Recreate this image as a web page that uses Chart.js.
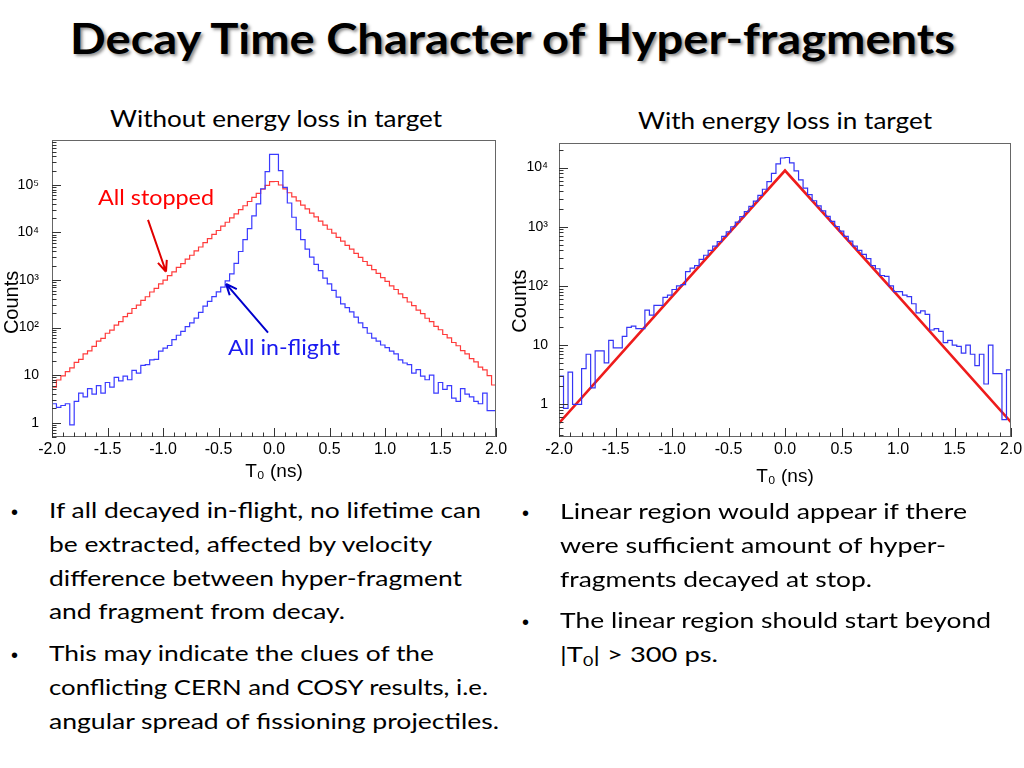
<!DOCTYPE html>
<html lang="en">
<head>
<meta charset="UTF-8">
<title>Decay Time Character of Hyper-fragments</title>
<script src="https://cdn.jsdelivr.net/npm/chart.js"></script>
<style>
  body { margin: 0; background: #fff; }
  .slide { position: relative; width: 1024px; height: 768px; overflow: hidden; font-family: Lato, "Open Sans", sans-serif; color: #000; }
  .txt { position: absolute; white-space: nowrap; transform-origin: 0 0; line-height: 1.2; }
  .title { font-weight: 700; font-size: 42px; text-shadow: 2px 2px 3px rgba(0,0,0,0.45); }
  .sub { font-size: 23px; }
  .bul { font-size: 22px; }
  .dot { position: absolute; font-family: "Liberation Sans", Arial, sans-serif; font-size: 20px; line-height: 1.2; }
  .plot { position: absolute; }
  sub { font-size: 65%; vertical-align: -0.25em; line-height: 0; }
</style>
</head>
<body>
<div class="slide">
  <div class="txt title" data-w="885" style="left:70px; top:13px">Decay Time Character of Hyper-fragments</div>

  <div class="txt sub" data-w="332" style="left:110px; top:105px">Without energy loss in target</div>
  <div class="txt sub" data-w="294" style="left:638px; top:107px">With energy loss in target</div>

  <div class="plot" style="left:0; top:130px"><canvas id="leftChart" width="510" height="360"></canvas></div>
  <div class="plot" style="left:505px; top:130px"><canvas id="rightChart" width="519" height="360"></canvas></div>

  <div class="dot" style="left:11px; top:500px">•</div>
  <div class="txt bul" data-w="432" style="left:49px; top:497px">If all decayed in-flight, no lifetime can</div>
  <div class="txt bul" data-w="383" style="left:49px; top:531px">be extracted, affected by velocity</div>
  <div class="txt bul" data-w="413" style="left:49px; top:565px">difference between hyper-fragment</div>
  <div class="txt bul" data-w="296" style="left:49px; top:598px">and fragment from decay.</div>
  <div class="dot" style="left:11px; top:643px">•</div>
  <div class="txt bul" data-w="385" style="left:49px; top:640px">This may indicate the clues of the</div>
  <div class="txt bul" data-w="439" style="left:49px; top:674px">conflicting CERN and COSY results, i.e.</div>
  <div class="txt bul" data-w="450" style="left:49px; top:708px">angular spread of fissioning projectiles.</div>

  <div class="dot" style="left:522px; top:501px">•</div>
  <div class="txt bul" data-w="407" style="left:560px; top:498px">Linear region would appear if there</div>
  <div class="txt bul" data-w="386" style="left:560px; top:532px">were sufficient amount of hyper-</div>
  <div class="txt bul" data-w="312" style="left:560px; top:566px">fragments decayed at stop.</div>
  <div class="dot" style="left:522px; top:610px">•</div>
  <div class="txt bul" data-w="431" style="left:560px; top:607px">The linear region should start beyond</div>
  <div class="txt bul" data-w="158" style="left:560px; top:641px">|T<sub>0</sub>| &gt; 300 ps.</div>
</div>

<script>
// histogram binning (ns)
const binStart = -2.0;
const binWidth = 0.04;

const xTickValues = [-2, -1.5, -1, -0.5, 0, 0.5, 1, 1.5, 2];
const xTickText = ['-2.0', '-1.5', '-1.0', '-0.5', '0.0', '0.5', '1.0', '1.5', '2.0'];
const yTicksLeft = [1, 10, 100, 1000, 10000, 100000];
const yTextLeft = ['1', '10', '10²', '10³', '10⁴', '10⁵'];
const yTicksRight = [1, 10, 100, 1000, 10000];
const yTextRight = ['1', '10', '10²', '10³', '10⁴'];

// without energy loss: all stopped (red)
const stoppedCounts = [
  5.6, 7.9, 9.6, 11.8, 14.2, 18.6, 21.4, 27.9, 32.5, 40.2,
  52.0, 59.5, 76.0, 88.5, 113, 133, 170, 198, 252, 298,
  375, 445, 560, 668, 830, 995, 1240, 1485, 1840, 2220,
  2750, 3320, 4100, 4950, 6100, 7400, 9100, 11000, 13550, 16400,
  20200, 24500, 30100, 36500, 44800, 54500, 66500, 81000, 98000, 117000,
  118000, 99500, 82500, 68500, 55800, 46300, 37700, 31300, 25500, 21200,
  17300, 14300, 11700, 9700, 7900, 6550, 5350, 4450, 3620, 3000,
  2450, 2040, 1650, 1380, 1120, 935, 755, 632, 510, 428,
  345, 290, 232, 197, 157, 133, 106, 90, 71.5, 61,
  48.5, 41.5, 32.8, 28.0, 22.2, 19.0, 14.8, 12.9, 9.8, 6.2
];

// without energy loss: all in-flight (blue)
const inFlightCounts = [
  2.5, 2.1, 2.3, 2.5, 0.9, 2.8, 4.2, 3.5, 5.2, 4.0,
  6.0, 4.2, 7.0, 5.6, 9.0, 7.6, 9.5, 8.0, 12.6, 11.0,
  16.0, 16.6, 21.0, 21.4, 32.0, 37.0, 42.0, 56.0, 69.0, 83.0,
  105, 126, 158, 209, 282, 355, 447, 562, 708, 955,
  1350, 2240, 3980, 7080, 12000, 22400, 39800, 83000, 190000, 437000,
  437000, 200000, 89000, 41700, 20900, 11500, 7080, 4470, 3020, 2140,
  1580, 1100, 832, 603, 437, 316, 263, 214, 166, 126,
  100, 76, 60, 52, 43, 38, 32, 28, 21, 18,
  16.6, 11.0, 13.0, 9.5, 8.0, 10.0, 4.2, 7.0, 5.0, 6.0,
  3.3, 2.8, 5.2, 4.0, 3.5, 2.8, 2.5, 4.2, 1.8, 1.8
];

// with energy loss (blue histogram)
const withLossCounts = [
  3.0, 0.85, 3.5, 1.0, 1.0, 4.0, 7.0, 1.9, 8.0, 8.0,
  5.0, 12.0, 9.0, 9.0, 14.0, 20.0, 21.0, 19.0, 19.0, 39.0,
  32.0, 47.0, 47.0, 64.0, 70.0, 87.0, 100, 105, 174, 200,
  220, 280, 330, 400, 470, 560, 690, 820, 1000, 1200,
  1480, 1800, 2200, 2700, 3400, 4300, 5800, 8000, 11500, 14500,
  14800, 12000, 8800, 6200, 4500, 3500, 2750, 2250, 1850, 1500,
  1230, 1010, 840, 690, 570, 470, 400, 340, 290, 220,
  195, 150, 145, 100, 80, 80, 70, 66, 50, 35,
  38, 33, 18, 19, 17, 11, 12, 10, 9.5, 7.3,
  10, 7.0, 4.5, 7.0, 2.2, 10, 3.3, 3.3, 0.55, 3.8
];

// exponential fit (red line, right panel)
const fitT = [-2, -1, 0, 1, 2];
const fitCounts = [0.48, 66, 8900, 68, 0.5];

const leftNotes = [
  { text: 'All stopped', color: '#ff0000', arrow: '#e00000', x: -1.063, y: 53300, w: 116,
    from: [-1.135, 18400], to: [-0.973, 1490] },
  { text: 'All in-flight', color: '#1a1af0', arrow: '#0000cc', x: 0.09, y: 37.7, w: 112,
    from: [-0.054, 78], to: [-0.432, 832] }
];

Chart.defaults.font.family = '"Liberation Sans", Arial, Helvetica, sans-serif';
Chart.defaults.color = '#000';

function histPoints(counts) {
  const pts = counts.map((c, i) => ({ x: binStart + i * binWidth, y: c }));
  pts.push({ x: binStart + counts.length * binWidth, y: counts[counts.length - 1] });
  return pts;
}

// ROOT-like frame with ticks pointing inwards
const rootAxes = {
  id: 'rootAxes',
  afterDatasetsDraw(chart) {
    const { ctx, chartArea: a, scales: { x, y } } = chart;
    ctx.save();
    ctx.strokeStyle = '#666';
    ctx.lineWidth = 1;
    ctx.strokeRect(a.left + 0.5, a.top + 0.5, a.right - a.left - 1, a.bottom - a.top - 1);
    ctx.strokeStyle = '#333';
    ctx.beginPath();
    for (let k = 0; k <= 40; k++) {
      const px = Math.round(x.getPixelForValue(x.min + k * 0.1)) + 0.5;
      const len = k % 5 === 0 ? 9 : 4.5;
      ctx.moveTo(px, a.bottom);
      ctx.lineTo(px, a.bottom - len);
    }
    const lo = Math.floor(Math.log10(y.min)), hi = Math.ceil(Math.log10(y.max));
    for (let e = lo; e <= hi; e++) {
      for (let m = 1; m <= 9; m++) {
        const v = m * Math.pow(10, e);
        if (v < y.min || v > y.max) continue;
        const py = Math.round(y.getPixelForValue(v)) + 0.5;
        ctx.moveTo(a.left, py);
        ctx.lineTo(a.left + (m === 1 ? 9 : 4.5), py);
      }
    }
    ctx.stroke();
    ctx.restore();
  }
};

// text labels with arrows, placed in data coordinates
const arrowNotes = {
  id: 'arrowNotes',
  afterDatasetsDraw(chart, args, opts) {
    const { ctx, scales: { x, y } } = chart;
    (opts.items || []).forEach(n => {
      const x0 = x.getPixelForValue(n.from[0]), y0 = y.getPixelForValue(n.from[1]);
      const x1 = x.getPixelForValue(n.to[0]), y1 = y.getPixelForValue(n.to[1]);
      const ang = Math.atan2(y1 - y0, x1 - x0);
      ctx.save();
      ctx.strokeStyle = n.arrow;
      ctx.lineWidth = 2;
      ctx.beginPath();
      ctx.moveTo(x0, y0);
      ctx.lineTo(x1, y1);
      for (const s of [-1, 1]) {
        ctx.moveTo(x1, y1);
        ctx.lineTo(x1 - 12 * Math.cos(ang + s * 0.4), y1 - 12 * Math.sin(ang + s * 0.4));
      }
      ctx.stroke();
      ctx.font = '22px Lato, "Open Sans", sans-serif';
      ctx.fillStyle = n.color;
      ctx.textBaseline = 'middle';
      const tw = ctx.measureText(n.text).width;
      ctx.translate(x.getPixelForValue(n.x) - n.w / 2, y.getPixelForValue(n.y));
      ctx.scale(n.w / tw, 1);
      ctx.fillText(n.text, 0, 0);
      ctx.restore();
    });
  }
};

function makeChart(id, datasets, o) {
  return new Chart(document.getElementById(id), {
    type: 'line',
    data: { datasets },
    options: {
      responsive: false,
      animation: false,
      devicePixelRatio: 1,
      layout: { padding: o.padding },
      plugins: {
        legend: { display: false },
        tooltip: { enabled: false },
        arrowNotes: { items: o.notes }
      },
      scales: {
        x: {
          type: 'linear', min: -2, max: 2,
          grid: { display: false, drawTicks: false },
          border: { display: false },
          afterBuildTicks: s => { s.ticks = xTickValues.map(v => ({ value: v })); },
          afterFit: s => { s.height = o.xHeight; s.paddingLeft = 0; s.paddingRight = 0; },
          ticks: { callback: (v, i) => xTickText[i], font: { size: 16 }, padding: 3, maxRotation: 0, autoSkip: false },
          title: { display: true, text: 'T₀ (ns)', font: { size: 19 }, padding: { top: 0, bottom: o.xTitlePad } }
        },
        y: {
          type: 'logarithmic', min: o.yMin, max: o.yMax,
          grid: { display: false, drawTicks: false },
          border: { display: false },
          afterBuildTicks: s => { s.ticks = o.yTicks.map(v => ({ value: v })); },
          afterFit: s => { s.width = o.yWidth; s.paddingTop = 0; s.paddingBottom = 0; },
          ticks: { callback: (v, i) => o.yText[i], font: { size: 14 }, padding: o.yPad, autoSkip: false },
          title: { display: true, text: o.yTitle, font: { size: 20 }, padding: { top: o.yTitlePad, bottom: 0 } }
        }
      }
    },
    plugins: [rootAxes, arrowNotes]
  });
}

const histStyle = { pointRadius: 0, stepped: true, fill: false, borderWidth: 1.2 };

makeChart('leftChart', [
  Object.assign({ data: histPoints(inFlightCounts), borderColor: '#3b3bff' }, histStyle),
  Object.assign({ data: histPoints(stoppedCounts), borderColor: '#ff3b3b' }, histStyle)
], {
  padding: { top: 10, right: 14, left: 0, bottom: 0 },
  yMin: 0.5, yMax: 8.8e5, yTicks: yTicksLeft, yText: yTextLeft,
  yWidth: 52, yPad: 13, xHeight: 53, xTitlePad: 7,
  yTitle: 'Counts     ', yTitlePad: 0, notes: leftNotes
});

makeChart('rightChart', [
  Object.assign({ data: histPoints(withLossCounts), borderColor: '#3535f5' }, histStyle),
  { data: fitT.map((t, i) => ({ x: t, y: fitCounts[i] })), borderColor: '#ee1c1c', borderWidth: 2.6, pointRadius: 0, fill: false }
], {
  padding: { top: 13, right: 13, left: 0, bottom: 0 },
  yMin: 0.28, yMax: 2.6e4, yTicks: yTicksRight, yText: yTextRight,
  yWidth: 54, yPad: 11, xHeight: 53, xTitlePad: 2,
  yTitle: 'Counts    ', yTitlePad: 3, notes: []
});

// squeeze each slide text line to the width it has in the original
function fitLines() {
  document.querySelectorAll('.txt').forEach(el => {
    el.style.transform = 'none';
    const w = el.getBoundingClientRect().width;
    el.style.transform = 'scaleX(' + (el.dataset.w / w) + ')';
  });
}
fitLines();
document.fonts.ready.then(fitLines);
</script>
</body>
</html>
